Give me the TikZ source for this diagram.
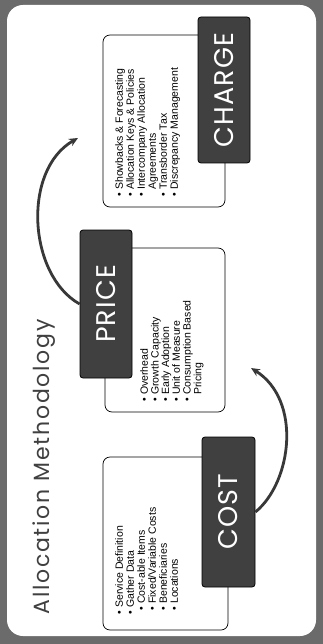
\documentclass[tikz,border=0pt]{standalone}
\usepackage{fontspec}
\setmainfont{Liberation Sans}
\newfontfamily\titlefont[LetterSpace=8]{Poppins}
\newfontfamily\boxfont[LetterSpace=4]{Poppins}
\usetikzlibrary{arrows.meta}
\definecolor{framegray}{gray}{0.42}
\definecolor{boxgray}{gray}{0.25}
\definecolor{titlegray}{gray}{0.25}
\definecolor{arrowgray}{gray}{0.22}
\newcommand{\bitem}[1]{\makebox[7pt][l]{\textbullet}#1}
\newcommand{\bsub}[1]{\hspace*{4pt}\makebox[7pt][l]{\textbullet}#1}
\newcommand{\bcont}[1]{\hspace*{7pt}#1}
\tikzset{
  txtbox/.style={draw=black, line width=0.7pt, fill=white, rounded corners=7pt, rotate=90, inner sep=0pt},
  labbox/.style={draw=black, line width=0.8pt, fill=boxgray, rounded corners=3pt, rotate=90, inner sep=0pt,
    text=white, font=\boxfont\fontsize{27}{30}\selectfont},
  listtxt/.style={rotate=90, align=left, inner sep=0pt, anchor=north west, font=\fontsize{10.5}{11}\selectfont},
  conn/.style={draw=arrowgray, line width=2.8pt, -{Stealth[length=9pt,width=8pt]}}
}
\begin{document}
\begin{tikzpicture}[x=1pt,y=-1pt]
\useasboundingbox (0,0) rectangle (323,644);
\fill[framegray] (0,0) rectangle (323,644);
\fill[white, rounded corners=16pt] (7,5) rectangle (316,636);

\node[rotate=90, inner sep=0pt, text=titlegray, font=\titlefont\fontsize{22}{24}\selectfont] (title) at (44,467) {Allocation Methodology};

% COST
\node[txtbox, minimum width=173pt, minimum height=125pt] (costtxt) at (165.5,543.5) {};
\node[labbox, minimum width=150pt, minimum height=53pt] (cost) at (228.5,512) {COST};
\node[listtxt] (costlist) at (115,615) {\bitem{Service Definition}\\ \bitem{Gather Data}\\ \bsub{Cost-able Items}\\ \bsub{Fixed/Variable Costs}\\ \bsub{Beneficiaries}\\ \bsub{Locations}};

% PRICE
\node[txtbox, minimum width=164pt, minimum height=120pt] (pricetxt) at (165,330) {};
\node[labbox, minimum width=148pt, minimum height=52pt] (price) at (106,304) {PRICE};
\node[listtxt, font=\fontsize{10.5}{10.7}\selectfont] (pricelist) at (140,402) {\bitem{Overhead}\\ \bitem{Growth Capacity}\\ \bitem{Early Adoption}\\ \bitem{Unit of Measure}\\ \bitem{Consumption Based}\\ \bcont{Pricing}};

% CHARGE
\node[txtbox, minimum width=172pt, minimum height=122pt] (chargetxt) at (164,121) {};
\node[labbox, minimum width=146pt, minimum height=52pt] (charge) at (224,90) {CHARGE};
\node[listtxt] (chargelist) at (115,197) {\bitem{Showbacks \& Forecasting}\\ \bitem{Allocation Keys \& Policies}\\ \bitem{Intercompany Allocation}\\ \bcont{Agreements}\\ \bitem{Transborder Tax}\\ \bitem{Discrepancy Management}};

% connectors
\coordinate (a1end) at (251,368);
\coordinate (a2end) at (78,138);
\draw[conn] (cost.south) .. controls (292,482) and (302,400) .. (a1end);
\draw[conn] (price.north) .. controls (28,275) and (22,170) .. (a2end);
\end{tikzpicture}
\end{document}
